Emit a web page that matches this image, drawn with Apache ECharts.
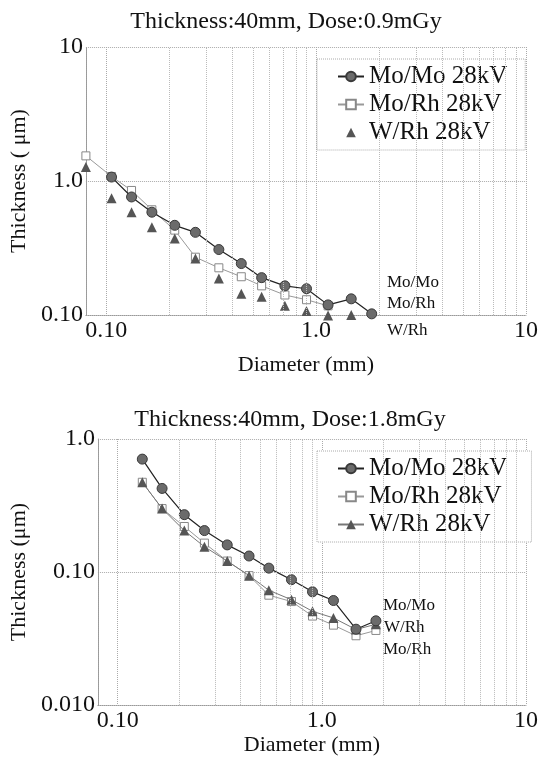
<!DOCTYPE html>
<html><head><meta charset="utf-8">
<script src="https://cdn.jsdelivr.net/npm/echarts@6/dist/echarts.min.js"></script>
<style>html,body{margin:0;padding:0;background:#fff}#c{width:541px;height:757px}</style>
</head><body><div id="c"></div>
<script>
// Diameter (mm)
const diameter = [0.08, 0.106, 0.132, 0.165, 0.212, 0.266, 0.344, 0.44, 0.55, 0.71, 0.90, 1.14, 1.47, 1.84];
// Top chart: Dose 0.9 mGy (thickness in um)
const momoTop = [null, 1.07, 0.76, 0.585, 0.467, 0.414, 0.308, 0.242, 0.19, 0.165, 0.157, 0.119, 0.132, 0.102];
const morhTop = [1.54, 1.08, 0.85, 0.61, 0.43, 0.27, 0.225, 0.193, 0.165, 0.141, 0.13, 0.117, null, null];
const wrhTop  = [1.27, 0.745, 0.585, 0.451, 0.373, 0.264, 0.187, 0.144, 0.137, 0.117, 0.107, 0.099, 0.100, null];
// Bottom chart: Dose 1.8 mGy
const momoBot = [null, null, 0.706, 0.425, 0.270, 0.205, 0.160, 0.132, 0.107, 0.0876, 0.071, 0.0611, 0.0372, 0.043];
const morhBot = [null, null, 0.473, 0.30, 0.22, 0.165, 0.121, 0.094, 0.067, 0.060, 0.0467, 0.0399, 0.0332, 0.0364];
const wrhBot  = [null, null, 0.473, 0.30, 0.205, 0.155, 0.121, 0.094, 0.073, 0.0619, 0.0507, 0.0452, 0.037, 0.0405];
// Tick labels
const xTickVals = [0.1, 1, 10];
const xTickText = ['0.10', '1.0', '10'];
const yTopTickVals = [0.1, 1, 10];
const yTopTickText = ['0.10', '1.0', '10'];
const yBotTickVals = [0.01, 0.1, 1];
const yBotTickText = ['0.010', '0.10', '1.0'];
// Minor vertical grid values
const minorX = [0.2, 0.3, 0.4, 0.5, 0.6, 0.7, 0.8, 0.9, 2, 3, 4, 5, 6, 7, 8, 9];
const seriesNames = ['Mo/Mo 28kV', 'Mo/Rh 28kV', 'W/Rh 28kV'];

const FONT = '"Liberation Serif", "Times New Roman", serif';
function pairs(vals) {
  const out = [];
  vals.forEach((v, i) => { if (v != null) out.push([diameter[i], v]); });
  return out;
}
function fmt(vals, texts) {
  return function (v) {
    for (let i = 0; i < vals.length; i++) {
      if (Math.abs(Math.log10(v) - Math.log10(vals[i])) < 1e-6) return texts[i];
    }
    return '';
  };
}
const gridLine = { show: true, lineStyle: { color: '#aaa', type: 'dotted', width: 1 } };
const axLine = { show: true, lineStyle: { color: '#999', type: 'dotted', width: 1 } };
function xAx(gi, gap) {
  return {
    type: 'log', gridIndex: gi, min: 0.08, max: 10, splitNumber: 2,
    name: 'Diameter (mm)', nameLocation: 'middle', nameGap: gap,
    nameTextStyle: { fontFamily: FONT, fontSize: 22, color: '#111' },
    axisLine: axLine, axisTick: { show: false }, splitLine: gridLine,
    axisLabel: { fontFamily: FONT, fontSize: 24, color: '#111', margin: 4, formatter: fmt(xTickVals, xTickText), showMinLabel: false }
  };
}
function yAx(gi, mn, mx, vals, texts, name, gap) {
  return {
    type: 'log', gridIndex: gi, min: mn, max: mx, splitNumber: 2,
    name: name, nameLocation: 'middle', nameGap: gap,
    nameTextStyle: { fontFamily: FONT, fontSize: 22, color: '#111' },
    axisLine: axLine, axisTick: { show: false }, splitLine: gridLine,
    axisLabel: { fontFamily: FONT, fontSize: 24, color: '#111', margin: 3, formatter: fmt(vals, texts) }
  };
}
function minorSeries(gi) {
  return {
    type: 'line', xAxisIndex: gi, yAxisIndex: gi, data: [], z: 1, silent: true,
    markLine: {
      silent: true, symbol: 'none', label: { show: false }, animation: false,
      lineStyle: { color: '#bbb', type: 'dotted', width: 1 },
      data: minorX.map(v => ({ xAxis: v }))
    }
  };
}
const momoStyle = { symbol: 'circle', symbolSize: 10, itemStyle: { color: '#6b6b6b', borderColor: '#3a3a3a', borderWidth: 1 }, lineStyle: { color: '#222', width: 1.2 } };
const morhStyle = { symbol: 'rect', symbolSize: 8, itemStyle: { color: '#fff', borderColor: '#888', borderWidth: 1 }, lineStyle: { color: '#999', width: 1 } };
const wrhStyle = { symbol: 'triangle', symbolSize: 10, itemStyle: { color: '#555' }, lineStyle: { color: '#777', width: 1 } };
const wrhNoLine = { symbol: 'triangle', symbolSize: 10, itemStyle: { color: '#555' }, lineStyle: { color: '#777', width: 0, opacity: 0 } };

function legend(top, suffix) {
  return {
    orient: 'vertical', left: 317, top: top, padding: [5, 18, 5, 20], itemGap: 3,
    itemWidth: 26, itemHeight: 12,
    backgroundColor: '#fff', borderColor: '#aaa', borderWidth: 1, borderType: 'dotted',
    textStyle: { fontFamily: FONT, fontSize: 25, color: '#111' },
    data: seriesNames.map(n => n + suffix)
  };
}

const option = {
  animation: false,
  backgroundColor: '#fff',
  title: [
    { text: 'Thickness:40mm, Dose:0.9mGy', left: 286, top: 10, textAlign: 'center', padding: 0,
      textStyle: { fontFamily: FONT, fontSize: 24, fontWeight: 'normal', color: '#111' } },
    { text: 'Thickness:40mm, Dose:1.8mGy', left: 290, top: 408, textAlign: 'center', padding: 0,
      textStyle: { fontFamily: FONT, fontSize: 24, fontWeight: 'normal', color: '#111' } }
  ],
  legend: [legend(59, ''), legend(451, ' ')],
  grid: [
    { left: 82, right: 12, top: 47, bottom: 442 },
    { left: 85, right: 11, top: 439, bottom: 47 }
  ],
  xAxis: [xAx(0, 39), xAx(1, 27)],
  yAxis: [
    yAx(0, 0.1, 10, yTopTickVals, yTopTickText, 'Thickness ( μm)', 43),
    yAx(1, 0.01, 1, yBotTickVals, yBotTickText, 'Thickness (μm)', 46)
  ],
  graphic: [
    { type: 'text', x: 387, y: 283, style: { text: 'Mo/Mo', font: '17px ' + FONT, fill: '#111', verticalAlign: 'middle' } },
    { type: 'text', x: 387, y: 304, style: { text: 'Mo/Rh', font: '17px ' + FONT, fill: '#111', verticalAlign: 'middle' } },
    { type: 'text', x: 387, y: 331, style: { text: 'W/Rh', font: '17px ' + FONT, fill: '#111', verticalAlign: 'middle' } },
    { type: 'text', x: 383, y: 606, style: { text: 'Mo/Mo', font: '17px ' + FONT, fill: '#111', verticalAlign: 'middle' } },
    { type: 'text', x: 384, y: 628, style: { text: 'W/Rh', font: '17px ' + FONT, fill: '#111', verticalAlign: 'middle' } },
    { type: 'text', x: 383, y: 650, style: { text: 'Mo/Rh', font: '17px ' + FONT, fill: '#111', verticalAlign: 'middle' } }
  ],
  series: [
    minorSeries(0),
    minorSeries(1),
    Object.assign({ name: seriesNames[1], type: 'line', xAxisIndex: 0, yAxisIndex: 0, z: 2, clip: false, data: pairs(morhTop) }, morhStyle),
    Object.assign({ name: seriesNames[2], type: 'line', xAxisIndex: 0, yAxisIndex: 0, z: 3, clip: false, data: pairs(wrhTop) }, wrhNoLine),
    Object.assign({ name: seriesNames[0], type: 'line', xAxisIndex: 0, yAxisIndex: 0, z: 4, clip: false, data: pairs(momoTop) }, momoStyle),
    Object.assign({ name: seriesNames[1] + ' ', type: 'line', xAxisIndex: 1, yAxisIndex: 1, z: 2, clip: false, data: pairs(morhBot) }, morhStyle),
    Object.assign({ name: seriesNames[2] + ' ', type: 'line', xAxisIndex: 1, yAxisIndex: 1, z: 3, clip: false, data: pairs(wrhBot) }, wrhStyle),
    Object.assign({ name: seriesNames[0] + ' ', type: 'line', xAxisIndex: 1, yAxisIndex: 1, z: 4, clip: false, data: pairs(momoBot) }, momoStyle)
  ]
};
const chart = echarts.init(document.getElementById('c'), null, { renderer: 'canvas' });
chart.setOption(option);
</script></body></html>
